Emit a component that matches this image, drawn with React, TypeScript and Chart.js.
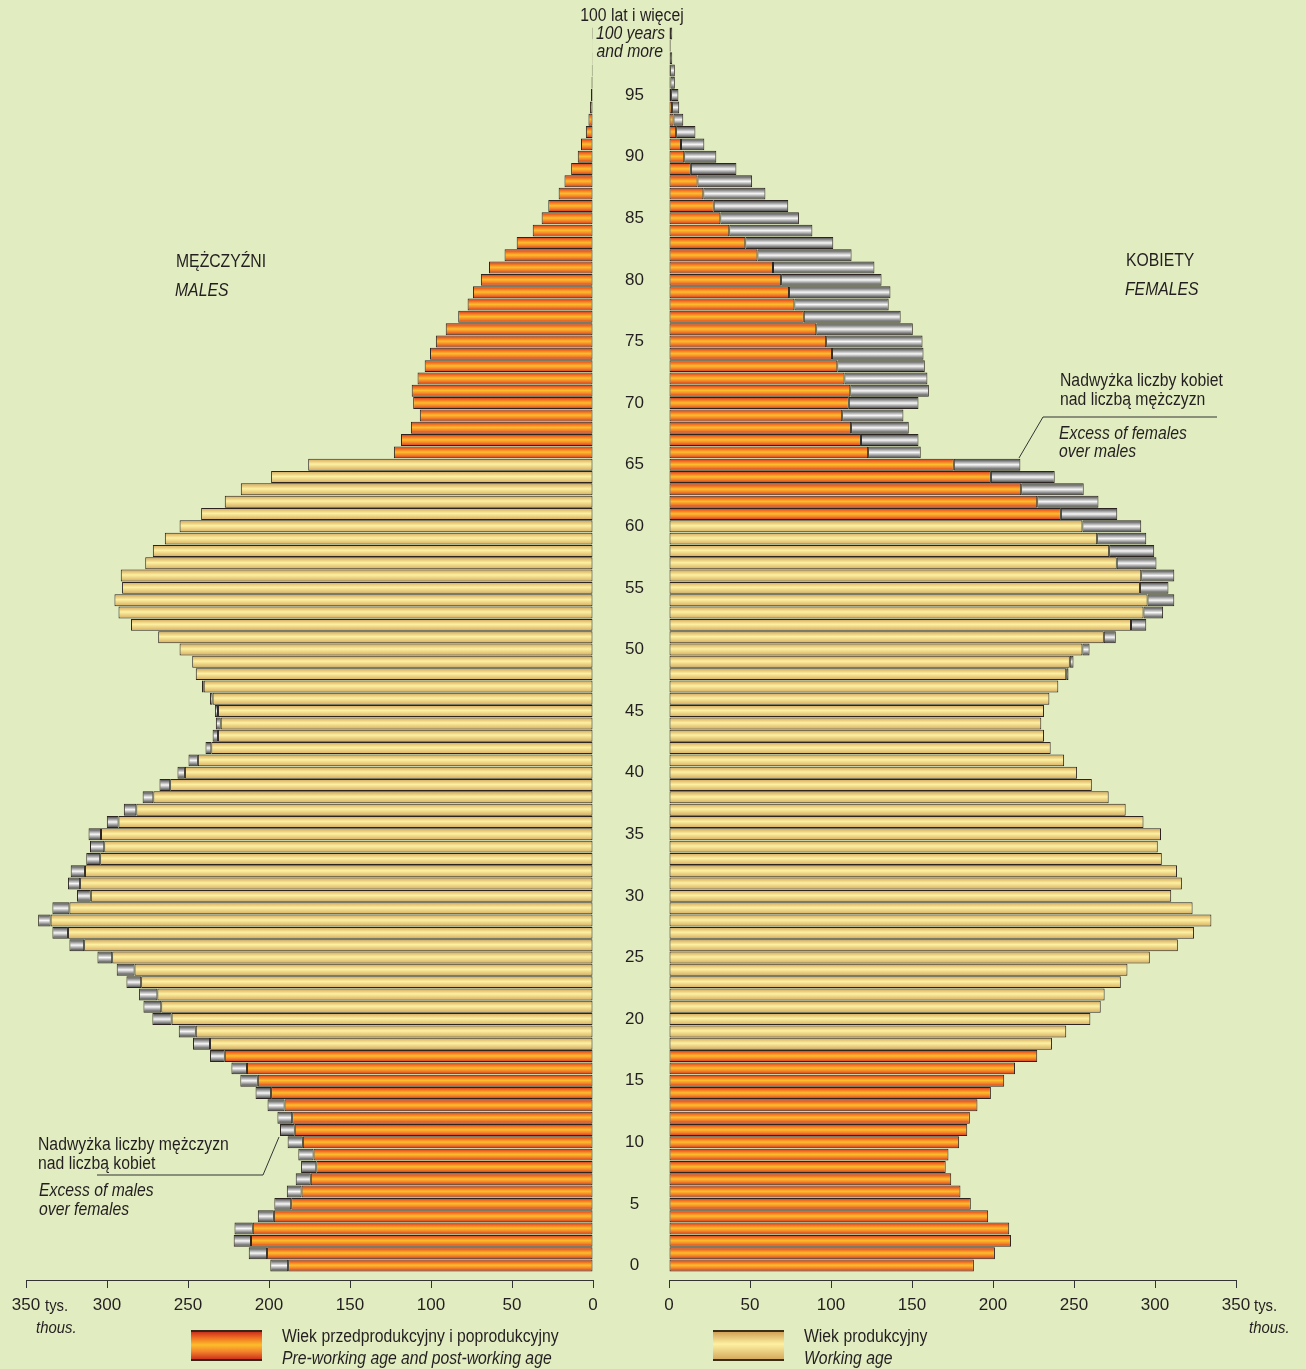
import React, { useEffect, useRef } from 'react';
import { Chart, registerables } from 'chart.js';

Chart.register(...registerables);

// ---------- DATA (thousands of persons, index = age) ----------
const ages = [
  0, 1, 2, 3, 4, 5, 6, 7, 8, 9, 10, 11, 12, 13, 14, 15, 16, 17, 18, 19,
  20, 21, 22, 23, 24, 25, 26, 27, 28, 29, 30, 31, 32, 33, 34, 35, 36, 37, 38, 39,
  40, 41, 42, 43, 44, 45, 46, 47, 48, 49, 50, 51, 52, 53, 54, 55, 56, 57, 58, 59,
  60, 61, 62, 63, 64, 65, 66, 67, 68, 69, 70, 71, 72, 73, 74, 75, 76, 77, 78, 79,
  80, 81, 82, 83, 84, 85, 86, 87, 88, 89, 90, 91, 92, 93, 94, 95, 96, 97, 98, 99, 100,
];

const males = [
  199.2, 212.5, 221.8, 221.3, 206.9, 196.7, 189.0, 183.5, 180.2, 181.9,
  188.5, 193.2, 194.8, 200.9, 208.3, 217.7, 223.2, 236.4, 246.9, 255.7,
  272.0, 277.5, 280.2, 288.0, 294.0, 305.9, 323.2, 333.7, 342.5, 333.7,
  318.5, 324.1, 322.4, 312.8, 310.5, 311.4, 300.1, 289.6, 278.0, 267.6,
  256.5, 249.7, 239.2, 234.8, 232.8, 233.4, 236.4, 241.4, 245.2, 247.4,
  255.2, 268.4, 285.2, 292.9, 295.4, 290.7, 291.5, 276.4, 271.7, 264.3,
  255.2, 241.9, 227.3, 217.4, 198.7, 175.8, 122.9, 118.5, 112.4, 106.9,
  111.0, 111.9, 108.3, 103.9, 100.6, 97.0, 90.9, 83.2, 77.4, 74.1,
  69.2, 64.2, 54.6, 47.1, 37.2, 31.7, 27.6, 21.2, 17.6, 13.5,
  9.4, 7.4, 4.4, 2.8, 1.9, 1.3, 0.9, 0.7, 0.5, 0.4, 0.6,
];

const females = [
  188.2, 201.2, 211.1, 210.0, 197.0, 186.3, 179.9, 174.2, 170.8, 172.5,
  179.1, 184.1, 185.7, 190.4, 198.7, 206.9, 213.6, 227.3, 236.4, 245.2,
  260.1, 266.5, 268.9, 278.9, 283.0, 296.8, 314.1, 324.1, 334.8, 323.2,
  310.0, 316.6, 313.6, 304.2, 301.7, 303.7, 292.9, 281.9, 271.4, 261.0,
  251.9, 243.9, 235.6, 231.5, 229.8, 231.5, 234.8, 240.3, 246.6, 249.7,
  259.6, 275.8, 294.6, 305.0, 311.9, 308.3, 311.9, 300.9, 299.5, 294.6,
  291.5, 276.7, 265.1, 256.0, 238.1, 216.9, 155.4, 154.0, 148.0, 144.7,
  154.0, 160.4, 159.5, 157.9, 157.1, 156.5, 150.5, 143.0, 135.6, 136.7,
  131.2, 126.8, 112.7, 101.4, 88.5, 80.2, 73.6, 59.5, 51.3, 41.6,
  29.2, 21.8, 16.3, 8.8, 6.3, 5.8, 3.6, 3.6, 2.0, 1.0, 2.0,
];

const ageTicks = [0, 5, 10, 15, 20, 25, 30, 35, 40, 45, 50, 55, 60, 65, 70, 75, 80, 85, 90, 95];
const valueTicks = [0, 50, 100, 150, 200, 250, 300, 350];

const workingAgeFrom = 18;
const workingAgeToMales = 65;
const workingAgeToFemales = 60;

// ---------- STYLE ----------
const FONT = "'Liberation Sans', Arial, Helvetica, sans-serif";
const SQUEEZE = 0.875;
const TEXT = '#231f20';
const BG = '#e1ecc1';
const BORDER = '#2b2420';
const BAR_PCT = 0.97;
const Y_MIN = -1.177;
const Y_MAX = 100.77;

const ORANGE: [number, string][] = [
  [0, '#c9321c'], [0.2, '#ef6a22'], [0.48, '#fcbd2b'], [0.72, '#f4832a'], [1, '#cf341d'],
];
const YELLOW: [number, string][] = [
  [0, '#d2a257'], [0.45, '#fdf1a1'], [1, '#d6aa5e'],
];
const GRAY: [number, string][] = [
  [0, '#383838'], [0.5, '#f7f7f7'], [1, '#3a3a3a'],
];

function gradFill(stops: [number, string][]) {
  return (c: any) => {
    const chart = c.chart;
    const ys = chart && chart.scales ? chart.scales.y : null;
    const raw = c.raw;
    const fallback = stops[Math.floor(stops.length / 2)][1];
    if (!ys || !raw || c.type !== 'data') return fallback;
    const yc = ys.getPixelForValue(raw.y);
    const row = Math.abs(ys.getPixelForValue(1) - ys.getPixelForValue(0));
    if (!isFinite(yc) || !isFinite(row) || row <= 0) return fallback;
    const h = (row * BAR_PCT) / 2;
    const g = chart.ctx.createLinearGradient(0, yc - h, 0, yc + h);
    stops.forEach(([o, col]) => g.addColorStop(o, col));
    return g;
  };
}

function buildConfig(values: number[], other: number[], workingTo: number, left: boolean): any {
  const pre: any[] = [];
  const work: any[] = [];
  const excess: any[] = [];
  ages.forEach((a, i) => {
    const base = Math.min(values[i], other[i]);
    const ex = values[i] - other[i];
    const working = a >= workingAgeFrom && a <= workingTo;
    (working ? work : pre).push({ x: base, y: a });
    if (ex > 0.05) excess.push({ x: ex, y: a });
  });
  const common = {
    borderColor: BORDER,
    borderWidth: 1,
    borderSkipped: false,
    barPercentage: BAR_PCT,
    categoryPercentage: 1,
  };
  const tickFont = { family: FONT, size: 17 };
  return {
    type: 'bar',
    data: {
      datasets: [
        { label: 'pre', data: pre, backgroundColor: gradFill(ORANGE), ...common },
        { label: 'work', data: work, backgroundColor: gradFill(YELLOW), ...common },
        { label: 'excess', data: excess, backgroundColor: gradFill(GRAY), ...common },
      ],
    },
    options: {
      indexAxis: 'y',
      animation: false,
      responsive: false,
      maintainAspectRatio: false,
      events: [],
      layout: { padding: left ? { left: 26, right: 7, top: 24, bottom: 0 } : { left: 0, right: 70, top: 24, bottom: 0 } },
      plugins: { legend: { display: false }, tooltip: { enabled: false }, title: { display: false } },
      scales: {
        x: {
          type: 'linear',
          min: 0,
          max: 350,
          reverse: left,
          stacked: true,
          offset: false,
          afterBuildTicks: (s: any) => { s.ticks = valueTicks.map((v) => ({ value: v })); },
          afterFit: (s: any) => { s.height = 40; },
          grid: { display: true, drawOnChartArea: false, drawTicks: true, tickLength: 8, color: '#333', lineWidth: 1, offset: false },
          border: { display: true, color: '#333', width: 1 },
          ticks: { font: tickFont, color: TEXT, padding: 7, maxRotation: 0, autoSkip: false },
        },
        y: {
          type: 'linear',
          min: Y_MIN,
          max: Y_MAX,
          stacked: true,
          offset: false,
          display: !left,
          position: 'left',
          afterBuildTicks: (s: any) => { s.ticks = ageTicks.map((v) => ({ value: v })); },
          afterFit: (s: any) => { s.width = left ? 0 : 76; },
          grid: { display: false, drawTicks: true, tickLength: 25, offset: false },
          border: { display: false },
          ticks: { font: { family: FONT, size: 17 }, color: TEXT, crossAlign: 'center', padding: 0, autoSkip: false },
        },
      },
    },
  };
}

function Txt(props: { x: number; y: number; align?: 'left' | 'center' | 'right'; italic?: boolean; size?: number; children: React.ReactNode }) {
  const { x, y, align = 'left', italic = false, size = 18, children } = props;
  const base: React.CSSProperties = {
    position: 'absolute', top: y, whiteSpace: 'nowrap', fontFamily: FONT, fontSize: size,
    fontStyle: italic ? 'italic' : 'normal', lineHeight: 1, color: TEXT,
  };
  if (align === 'left') {
    Object.assign(base, { left: x, transformOrigin: '0 50%', transform: `translateY(-50%) scaleX(${SQUEEZE})` });
  } else if (align === 'right') {
    Object.assign(base, { right: 1306 - x, transformOrigin: '100% 50%', transform: `translateY(-50%) scaleX(${SQUEEZE})` });
  } else {
    Object.assign(base, { left: x, transformOrigin: '50% 50%', transform: `translate(-50%, -50%) scaleX(${SQUEEZE})` });
  }
  return <div style={base}>{children}</div>;
}

const grad = (stops: [number, string][]) =>
  `linear-gradient(to bottom, ${stops.map(([o, c]) => `${c} ${Math.round(o * 100)}%`).join(', ')})`;

export default function App() {
  const leftRef = useRef<HTMLCanvasElement | null>(null);
  const rightRef = useRef<HTMLCanvasElement | null>(null);

  useEffect(() => {
    if (!leftRef.current || !rightRef.current) return;
    const l = new Chart(leftRef.current, buildConfig(males, females, workingAgeToMales, true));
    const r = new Chart(rightRef.current, buildConfig(females, males, workingAgeToFemales, false));
    return () => { l.destroy(); r.destroy(); };
  }, []);

  return (
    <div style={{ position: 'absolute', left: 0, top: 0, width: 1306, height: 1369, background: BG, overflow: 'hidden' }}>
      <canvas ref={leftRef} width={600} height={1320} style={{ position: 'absolute', left: 0, top: 0, width: 600, height: 1320, display: 'block' }} />
      <canvas ref={rightRef} width={713} height={1320} style={{ position: 'absolute', left: 593, top: 0, width: 713, height: 1320, display: 'block' }} />

      <svg width={1306} height={1369} style={{ position: 'absolute', left: 0, top: 0, pointerEvents: 'none' }}>
        <polyline points="97,1175 263,1175 279,1137" fill="none" stroke="#333" strokeWidth={1} />
        <polyline points="1217,417 1043,417 1019,458" fill="none" stroke="#333" strokeWidth={1} />
      </svg>

      <Txt x={632} y={15} align="center">100 lat i więcej</Txt>
      <Txt x={665} y={33} align="right" italic>100 years</Txt>
      <Txt x={663} y={51} align="right" italic>and more</Txt>

      <Txt x={176} y={261}>MĘŻCZYŹNI</Txt>
      <Txt x={175} y={290} italic>MALES</Txt>
      <Txt x={1126} y={260}>KOBIETY</Txt>
      <Txt x={1125} y={289} italic>FEMALES</Txt>

      <Txt x={1060} y={380}>Nadwyżka liczby kobiet</Txt>
      <Txt x={1060} y={399}>nad liczbą mężczyzn</Txt>
      <Txt x={1059} y={433} italic>Excess of females</Txt>
      <Txt x={1059} y={451} italic>over males</Txt>

      <Txt x={38} y={1144}>Nadwyżka liczby mężczyzn</Txt>
      <Txt x={38} y={1163}>nad liczbą kobiet</Txt>
      <Txt x={39} y={1190} italic>Excess of males</Txt>
      <Txt x={39} y={1209} italic>over females</Txt>

      <Txt x={45} y={1305} size={17}>tys.</Txt>
      <Txt x={36} y={1327} size={17} italic>thous.</Txt>
      <Txt x={1254} y={1305} size={17}>tys.</Txt>
      <Txt x={1249} y={1327} size={17} italic>thous.</Txt>

      <div style={{ position: 'absolute', left: 191, top: 1330, width: 71, height: 31, background: grad(ORANGE), borderTop: '2px solid #3a2418', borderBottom: '2px solid #3a2418', boxSizing: 'border-box' }} />
      <Txt x={282} y={1336}>Wiek przedprodukcyjny i poprodukcyjny</Txt>
      <Txt x={282} y={1358} italic>Pre-working age and post-working age</Txt>

      <div style={{ position: 'absolute', left: 713, top: 1330, width: 71, height: 31, background: grad(YELLOW), borderTop: '2px solid #3a2e18', borderBottom: '2px solid #3a2e18', boxSizing: 'border-box' }} />
      <Txt x={804} y={1336}>Wiek produkcyjny</Txt>
      <Txt x={804} y={1358} italic>Working age</Txt>
    </div>
  );
}
